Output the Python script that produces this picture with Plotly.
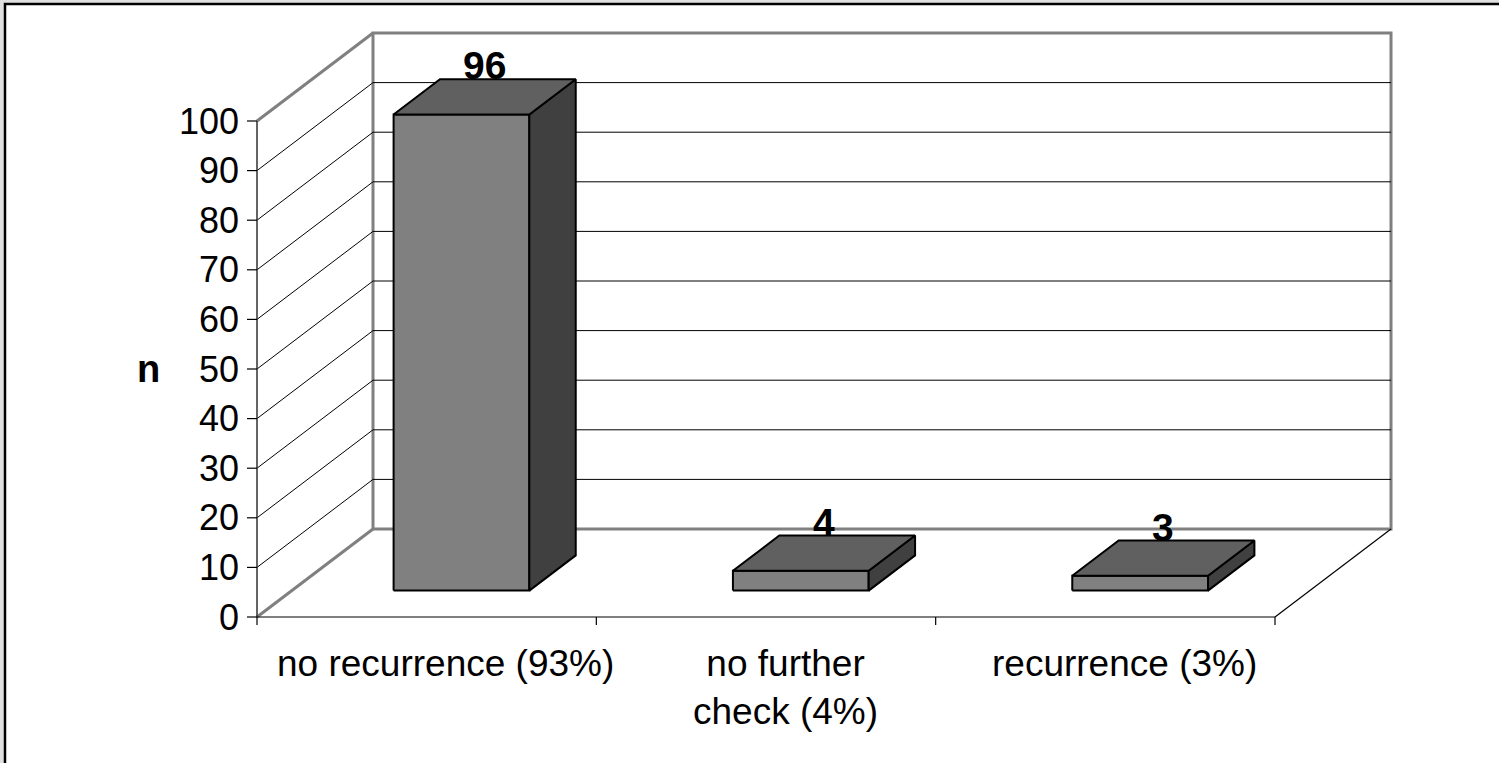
import plotly.graph_objects as go

# ---- data -------------------------------------------------------------
categories = ["no recurrence (93%)", "no further<br>check (4%)", "recurrence (3%)"]
counts = [96, 4, 3]
y_ticks = [0, 10, 20, 30, 40, 50, 60, 70, 80, 90, 100]
y_title = "n"

# ---- frame / projection -----------------------------------------------
W, H = 1499, 763
FRONT_LEFT_PX, FRONT_RIGHT_PX = 257, 1275   # front floor edge in pixels
ZERO_PX = 617                               # pixel row of value 0 on front edge
PX_PER_VALUE = 4.96
N = len(categories)
Y_MAX = 100

px_per_cat = (FRONT_RIGHT_PX - FRONT_LEFT_PX) / N
x_range = [-FRONT_LEFT_PX / px_per_cat, (W - FRONT_LEFT_PX) / px_per_cat]
y_range = [-(H - ZERO_PX) / PX_PER_VALUE, ZERO_PX / PX_PER_VALUE]

# oblique depth vector (full depth of the box), in data units
DX = 116 / px_per_cat
DY = 88 / PX_PER_VALUE

BAR_W = 0.40          # bar width in category units
BAR_FRONT = 0.30      # depth fraction of bar front face
BAR_DEPTH = 0.40      # depth fraction occupied by bar

WALL = "#808080"
FRONT_C, TOP_C, SIDE_C = "#808080", "#606060", "#404040"
FONT = "Liberation Sans, Arial, sans-serif"

fig = go.Figure()


def poly(xs, ys, fill, line_color="black", width=2):
    fig.add_trace(go.Scatter(
        x=xs + [xs[0]], y=ys + [ys[0]], mode="lines", fill="toself",
        fillcolor=fill, line=dict(color=line_color, width=width),
        hoverinfo="skip", showlegend=False))


def lines(segs, color, width):
    xs, ys = [], []
    for (xa, ya), (xb, yb) in segs:
        xs += [xa, xb, None]
        ys += [ya, yb, None]
    fig.add_trace(go.Scatter(x=xs, y=ys, mode="lines",
                             line=dict(color=color, width=width),
                             hoverinfo="skip", showlegend=False))


# back wall
poly([DX, N + DX, N + DX, DX], [DY, DY, Y_MAX + DY, Y_MAX + DY], "white", WALL, 3)

# gridlines on back wall and side wall
grid = []
for v in y_ticks[1:-1]:
    grid.append(((DX, v + DY), (N + DX, v + DY)))
    grid.append(((0, v), (DX, v + DY)))
lines(grid, "black", 1)

# side wall outer edges and floor back/left edges
lines([((0, Y_MAX), (DX, Y_MAX + DY)), ((0, 0), (DX, DY))], WALL, 3)

# floor front and right edges
lines([((0, 0), (N, 0)), ((N, 0), (N + DX, DY))], "black", 1.2)

# value axis with ticks
tick_len = 10 / px_per_cat
lines([((0, 0), (0, Y_MAX))], "#303030", 1.5)
lines([((-tick_len, v), (0, v)) for v in y_ticks], "black", 1.2)

# category ticks
cat_tick = 8 / PX_PER_VALUE
lines([((i, 0), (i, -cat_tick)) for i in range(N + 1)], "black", 1.2)

# bars
annotations = []
for i, v in enumerate(counts):
    xc = i + 0.5 + BAR_FRONT * DX
    yb = BAR_FRONT * DY
    xl, xr = xc - BAR_W / 2, xc + BAR_W / 2
    ddx, ddy = BAR_DEPTH * DX, BAR_DEPTH * DY
    # front face
    poly([xl, xr, xr, xl], [yb, yb, yb + v, yb + v], FRONT_C)
    # side face
    poly([xr, xr + ddx, xr + ddx, xr], [yb, yb + ddy, yb + v + ddy, yb + v], SIDE_C)
    # top face
    poly([xl, xr, xr + ddx, xl + ddx], [yb + v, yb + v, yb + v + ddy, yb + v + ddy], TOP_C)
    annotations.append(dict(
        x=xc + ddx / 2, y=yb + v + ddy, text=f"<b>{v}</b>", showarrow=False,
        xanchor="center", yanchor="bottom", yshift=-10,
        font=dict(family=FONT, size=39, color="black")))

# value axis labels
for v in y_ticks:
    annotations.append(dict(
        x=-16 / px_per_cat, y=v, text=str(v), showarrow=False,
        xanchor="right", yanchor="middle",
        font=dict(family=FONT, size=36, color="black")))

# category labels
for i, c in enumerate(categories):
    annotations.append(dict(
        x=i + 0.5 + 19 / px_per_cat, y=-24 / PX_PER_VALUE, text=c, showarrow=False,
        xanchor="center", yanchor="top",
        font=dict(family=FONT, size=37, color="black")))

# axis title
annotations.append(dict(
    x=-109 / px_per_cat, y=Y_MAX / 2, text=f"<b>{y_title}</b>", showarrow=False,
    xanchor="center", yanchor="middle",
    font=dict(family=FONT, size=38, color="black")))

fig.update_layout(
    width=W, height=H,
    margin=dict(l=0, r=0, t=0, b=0),
    paper_bgcolor="#e0e0e0",
    plot_bgcolor="rgba(0,0,0,0)",
    xaxis=dict(range=x_range, visible=False, fixedrange=True),
    yaxis=dict(range=y_range, visible=False, fixedrange=True),
    annotations=annotations,
    shapes=[dict(type="rect", xref="paper", yref="paper",
                 x0=5 / W, x1=(W + 20) / W, y0=-20 / H, y1=1 - 4 / H,
                 fillcolor="white", line=dict(color="black", width=2.5),
                 layer="below")],
    hovermode=False,
)

fig.write_html("out.html", config={"displayModeBar": False})
